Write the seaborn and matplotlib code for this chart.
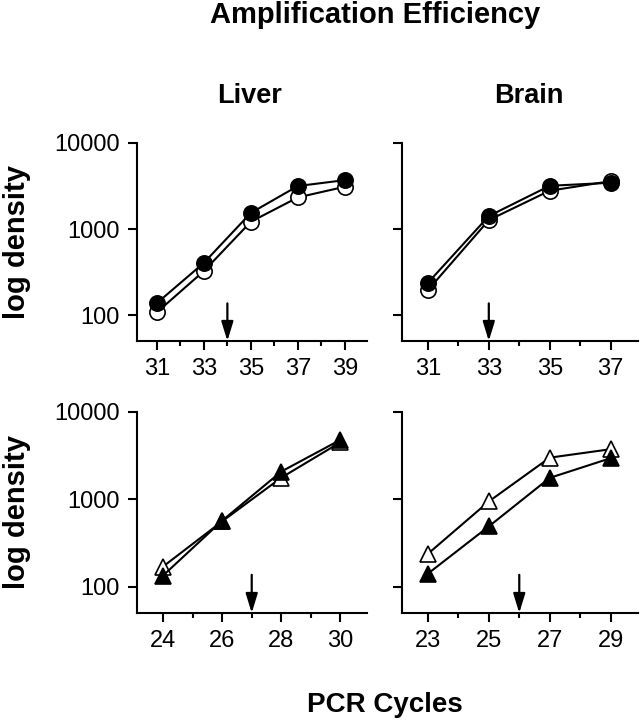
import seaborn as sns
import matplotlib.pyplot as plt
from matplotlib.ticker import FixedLocator, MultipleLocator, NullLocator, FuncFormatter

# --- data ---
# Liver, circles
liver_top_cycles = [31, 33, 35, 37, 39]
liver_top_open = [108, 325, 1215, 2330, 3100]
liver_top_filled = [138, 405, 1540, 3160, 3700]

# Brain, circles
brain_top_cycles = [31, 33, 35, 37]
brain_top_open = [195, 1270, 2790, 3600]
brain_top_filled = [237, 1415, 3180, 3450]

# Liver, triangles
liver_bot_cycles = [24, 26, 28, 30]
liver_bot_open = [170, 560, 1770, 4500]
liver_bot_filled = [134, 570, 2080, 4800]

# Brain, triangles
brain_bot_cycles = [23, 25, 27, 29]
brain_bot_open = [238, 945, 3000, 3750]
brain_bot_filled = [141, 490, 1760, 2960]

# cycle marked by the arrow in each panel
arrow_cycles = [34, 33, 27, 26]

y_ticks = [100, 1000, 10000]

sns.set_style("ticks")
plt.rcParams["font.family"] = ["Liberation Sans", "DejaVu Sans"]
plt.rcParams.update({
    "axes.linewidth": 1.5,
    "axes.edgecolor": "black",
    "axes.labelcolor": "black",
    "text.color": "black",
    "xtick.color": "black",
    "ytick.color": "black",
    "xtick.major.width": 1.5,
    "ytick.major.width": 1.5,
    "xtick.minor.width": 1.5,
})

fig = plt.figure(figsize=(6.42, 7.2), dpi=100)

# axes boxes in figure fraction: left, bottom, width, height
boxes = [
    [0.2134, 0.5264, 0.3583, 0.2750],
    [0.6262, 0.5264, 0.3676, 0.2750],
    [0.2134, 0.1486, 0.3583, 0.2792],
    [0.6262, 0.1486, 0.3676, 0.2792],
]
xlims = [(30.15, 39.95), (30.15, 37.9), (23.12, 30.9), (22.15, 29.9)]
panels = [
    (liver_top_cycles, liver_top_open, liver_top_filled, "o", 11),
    (brain_top_cycles, brain_top_open, brain_top_filled, "o", 11),
    (liver_bot_cycles, liver_bot_open, liver_bot_filled, "^", 11.5),
    (brain_bot_cycles, brain_bot_open, brain_bot_filled, "^", 11.5),
]

for i, (box, xl, (cyc, op, fl, mk, ms)) in enumerate(zip(boxes, xlims, panels)):
    ax = fig.add_axes(box)
    # open markers first, filled ones on top
    sns.lineplot(x=cyc, y=op, ax=ax, color="black", lw=1.5, marker=mk,
                 markersize=ms, markerfacecolor="white",
                 markeredgecolor="black", markeredgewidth=1.2)
    sns.lineplot(x=cyc, y=fl, ax=ax, color="black", lw=1.5, marker=mk,
                 markersize=ms, markerfacecolor="black",
                 markeredgecolor="black", markeredgewidth=1.2)

    ax.set_yscale("log")
    ax.set_ylim(50, 10000)
    ax.yaxis.set_major_locator(FixedLocator(y_ticks))
    ax.yaxis.set_minor_locator(NullLocator())
    ax.yaxis.set_major_formatter(FuncFormatter(lambda v, p: f"{int(v)}"))

    ax.set_xlim(*xl)
    ax.xaxis.set_major_locator(FixedLocator(cyc))
    ax.xaxis.set_minor_locator(MultipleLocator(1))
    ax.tick_params(axis="both", which="major", length=6.5, labelsize=17, pad=6)
    ax.tick_params(axis="x", which="minor", length=3.5)
    if i % 2 == 1:
        ax.tick_params(axis="y", labelleft=False)
    else:
        ax.set_ylabel("log density", fontsize=21, fontweight="bold")
        ax.yaxis.set_label_coords(-0.46, 0.5)
    sns.despine(ax=ax)

    # arrow marking the cycle used
    ax.annotate("", xy=(arrow_cycles[i], 0), xycoords=("data", "axes fraction"),
                xytext=(arrow_cycles[i], 0.19),
                textcoords=("data", "axes fraction"),
                arrowprops=dict(arrowstyle="-|>,head_length=0.65,head_width=0.2",
                                mutation_scale=18, color="black", lw=1.6,
                                shrinkA=0, shrinkB=0))

fig.text(0.584, 0.968, "Amplification Efficiency", ha="center", va="baseline",
         fontsize=21, fontweight="bold")
fig.text(0.389, 0.857, "Liver", ha="center", va="baseline",
         fontsize=19.5, fontweight="bold")
fig.text(0.824, 0.857, "Brain", ha="center", va="baseline",
         fontsize=19.5, fontweight="bold")
fig.text(0.599, 0.011, "PCR Cycles", ha="center", va="baseline",
         fontsize=20, fontweight="bold")

plt.savefig("out.png", dpi=100)
